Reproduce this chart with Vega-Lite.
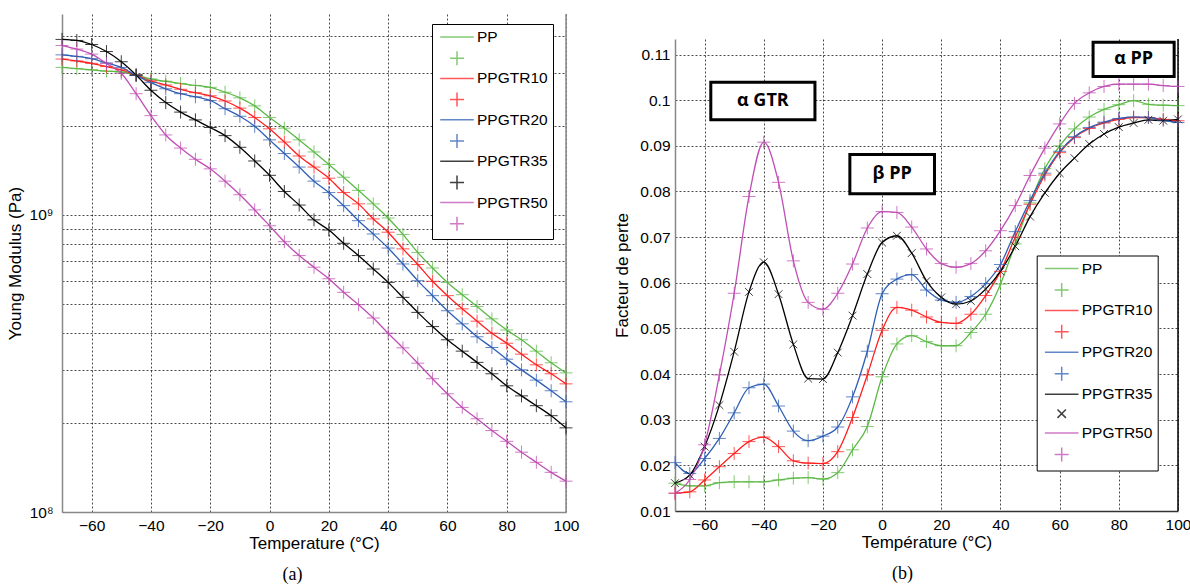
{
"$schema": "https://vega.github.io/schema/vega-lite/v6.json",
"padding": {"left": 6, "top": 13, "right": 0, "bottom": 0},
"spacing": 34,
"config": {
  "view": {"stroke": null},
  "font": "Liberation Sans",
  "axis": {"ticks": false, "labelFont": "Liberation Sans", "labelFontSize": 15.5, "labelColor": "#000", "titleFont": "Liberation Sans", "titleFontSize": 17, "titleFontWeight": "normal", "titleColor": "#000", "grid": true, "gridColor": "#000", "gridDash": [2, 2], "gridOpacity": 0.7, "gridWidth": 1, "domainColor": "#888", "domainWidth": 1.5},
  "axisX": {"labelPadding": 6, "titlePadding": 2, "labelFlush": false},
  "title": {"font": "Liberation Serif", "fontSize": 18, "fontWeight": "normal", "color": "#000", "orient": "bottom", "frame": "bounds", "anchor": "middle", "offset": 14}
},
"datasets": {
"E": [
{"s":"PP","T":-70,"v":3.14e9},{"s":"PP","T":-65,"v":3.11e9},{"s":"PP","T":-60,"v":3.08e9},{"s":"PP","T":-55,"v":3.05e9},{"s":"PP","T":-50,"v":3.03e9},{"s":"PP","T":-45,"v":2.96e9},{"s":"PP","T":-40,"v":2.87e9},{"s":"PP","T":-35,"v":2.82e9},{"s":"PP","T":-30,"v":2.77e9},{"s":"PP","T":-25,"v":2.73e9},{"s":"PP","T":-20,"v":2.69e9},{"s":"PP","T":-15,"v":2.59e9},{"s":"PP","T":-10,"v":2.48e9},{"s":"PP","T":-5,"v":2.33e9},{"s":"PP","T":0,"v":2.13e9},{"s":"PP","T":5,"v":1.96e9},{"s":"PP","T":10,"v":1.79e9},{"s":"PP","T":15,"v":1.63e9},{"s":"PP","T":20,"v":1.48e9},{"s":"PP","T":25,"v":1.34e9},{"s":"PP","T":30,"v":1.21e9},{"s":"PP","T":35,"v":1.09e9},{"s":"PP","T":40,"v":0.977e9},{"s":"PP","T":45,"v":0.86e9},{"s":"PP","T":50,"v":0.748e9},{"s":"PP","T":55,"v":0.663e9},{"s":"PP","T":60,"v":0.593e9},{"s":"PP","T":65,"v":0.539e9},{"s":"PP","T":70,"v":0.492e9},{"s":"PP","T":75,"v":0.447e9},{"s":"PP","T":80,"v":0.41e9},{"s":"PP","T":85,"v":0.38e9},{"s":"PP","T":90,"v":0.348e9},{"s":"PP","T":95,"v":0.318e9},{"s":"PP","T":100,"v":0.294e9},
{"s":"PPGTR10","T":-70,"v":3.35e9},{"s":"PPGTR10","T":-65,"v":3.3e9},{"s":"PPGTR10","T":-60,"v":3.24e9},{"s":"PPGTR10","T":-55,"v":3.16e9},{"s":"PPGTR10","T":-50,"v":3.08e9},{"s":"PPGTR10","T":-45,"v":2.96e9},{"s":"PPGTR10","T":-40,"v":2.83e9},{"s":"PPGTR10","T":-35,"v":2.74e9},{"s":"PPGTR10","T":-30,"v":2.65e9},{"s":"PPGTR10","T":-25,"v":2.58e9},{"s":"PPGTR10","T":-20,"v":2.52e9},{"s":"PPGTR10","T":-15,"v":2.42e9},{"s":"PPGTR10","T":-10,"v":2.29e9},{"s":"PPGTR10","T":-5,"v":2.13e9},{"s":"PPGTR10","T":0,"v":1.95e9},{"s":"PPGTR10","T":5,"v":1.76e9},{"s":"PPGTR10","T":10,"v":1.58e9},{"s":"PPGTR10","T":15,"v":1.45e9},{"s":"PPGTR10","T":20,"v":1.33e9},{"s":"PPGTR10","T":25,"v":1.19e9},{"s":"PPGTR10","T":30,"v":1.09e9},{"s":"PPGTR10","T":35,"v":0.97e9},{"s":"PPGTR10","T":40,"v":0.875e9},{"s":"PPGTR10","T":45,"v":0.769e9},{"s":"PPGTR10","T":50,"v":0.681e9},{"s":"PPGTR10","T":55,"v":0.598e9},{"s":"PPGTR10","T":60,"v":0.535e9},{"s":"PPGTR10","T":65,"v":0.483e9},{"s":"PPGTR10","T":70,"v":0.439e9},{"s":"PPGTR10","T":75,"v":0.4e9},{"s":"PPGTR10","T":80,"v":0.37e9},{"s":"PPGTR10","T":85,"v":0.34e9},{"s":"PPGTR10","T":90,"v":0.313e9},{"s":"PPGTR10","T":95,"v":0.292e9},{"s":"PPGTR10","T":100,"v":0.27e9},
{"s":"PPGTR20","T":-70,"v":3.46e9},{"s":"PPGTR20","T":-65,"v":3.42e9},{"s":"PPGTR20","T":-60,"v":3.36e9},{"s":"PPGTR20","T":-55,"v":3.25e9},{"s":"PPGTR20","T":-50,"v":3.14e9},{"s":"PPGTR20","T":-45,"v":2.95e9},{"s":"PPGTR20","T":-40,"v":2.79e9},{"s":"PPGTR20","T":-35,"v":2.66e9},{"s":"PPGTR20","T":-30,"v":2.56e9},{"s":"PPGTR20","T":-25,"v":2.5e9},{"s":"PPGTR20","T":-20,"v":2.43e9},{"s":"PPGTR20","T":-15,"v":2.28e9},{"s":"PPGTR20","T":-10,"v":2.15e9},{"s":"PPGTR20","T":-5,"v":1.99e9},{"s":"PPGTR20","T":0,"v":1.79e9},{"s":"PPGTR20","T":5,"v":1.61e9},{"s":"PPGTR20","T":10,"v":1.45e9},{"s":"PPGTR20","T":15,"v":1.3e9},{"s":"PPGTR20","T":20,"v":1.19e9},{"s":"PPGTR20","T":25,"v":1.075e9},{"s":"PPGTR20","T":30,"v":0.957e9},{"s":"PPGTR20","T":35,"v":0.863e9},{"s":"PPGTR20","T":40,"v":0.774e9},{"s":"PPGTR20","T":45,"v":0.684e9},{"s":"PPGTR20","T":50,"v":0.601e9},{"s":"PPGTR20","T":55,"v":0.535e9},{"s":"PPGTR20","T":60,"v":0.476e9},{"s":"PPGTR20","T":65,"v":0.43e9},{"s":"PPGTR20","T":70,"v":0.389e9},{"s":"PPGTR20","T":75,"v":0.358e9},{"s":"PPGTR20","T":80,"v":0.327e9},{"s":"PPGTR20","T":85,"v":0.301e9},{"s":"PPGTR20","T":90,"v":0.278e9},{"s":"PPGTR20","T":95,"v":0.256e9},{"s":"PPGTR20","T":100,"v":0.235e9},
{"s":"PPGTR35","T":-70,"v":3.9e9},{"s":"PPGTR35","T":-65,"v":3.87e9},{"s":"PPGTR35","T":-60,"v":3.75e9},{"s":"PPGTR35","T":-55,"v":3.55e9},{"s":"PPGTR35","T":-50,"v":3.28e9},{"s":"PPGTR35","T":-45,"v":2.96e9},{"s":"PPGTR35","T":-40,"v":2.63e9},{"s":"PPGTR35","T":-35,"v":2.39e9},{"s":"PPGTR35","T":-30,"v":2.22e9},{"s":"PPGTR35","T":-25,"v":2.09e9},{"s":"PPGTR35","T":-20,"v":1.97e9},{"s":"PPGTR35","T":-15,"v":1.85e9},{"s":"PPGTR35","T":-10,"v":1.69e9},{"s":"PPGTR35","T":-5,"v":1.52e9},{"s":"PPGTR35","T":0,"v":1.36e9},{"s":"PPGTR35","T":5,"v":1.2e9},{"s":"PPGTR35","T":10,"v":1.08e9},{"s":"PPGTR35","T":15,"v":0.963e9},{"s":"PPGTR35","T":20,"v":0.89e9},{"s":"PPGTR35","T":25,"v":0.803e9},{"s":"PPGTR35","T":30,"v":0.73e9},{"s":"PPGTR35","T":35,"v":0.658e9},{"s":"PPGTR35","T":40,"v":0.593e9},{"s":"PPGTR35","T":45,"v":0.528e9},{"s":"PPGTR35","T":50,"v":0.47e9},{"s":"PPGTR35","T":55,"v":0.421e9},{"s":"PPGTR35","T":60,"v":0.38e9},{"s":"PPGTR35","T":65,"v":0.348e9},{"s":"PPGTR35","T":70,"v":0.319e9},{"s":"PPGTR35","T":75,"v":0.292e9},{"s":"PPGTR35","T":80,"v":0.266e9},{"s":"PPGTR35","T":85,"v":0.246e9},{"s":"PPGTR35","T":90,"v":0.228e9},{"s":"PPGTR35","T":95,"v":0.211e9},{"s":"PPGTR35","T":100,"v":0.192e9},
{"s":"PPGTR50","T":-70,"v":3.72e9},{"s":"PPGTR50","T":-65,"v":3.62e9},{"s":"PPGTR50","T":-60,"v":3.48e9},{"s":"PPGTR50","T":-55,"v":3.24e9},{"s":"PPGTR50","T":-50,"v":3.0e9},{"s":"PPGTR50","T":-45,"v":2.56e9},{"s":"PPGTR50","T":-40,"v":2.16e9},{"s":"PPGTR50","T":-35,"v":1.86e9},{"s":"PPGTR50","T":-30,"v":1.68e9},{"s":"PPGTR50","T":-25,"v":1.54e9},{"s":"PPGTR50","T":-20,"v":1.43e9},{"s":"PPGTR50","T":-15,"v":1.3e9},{"s":"PPGTR50","T":-10,"v":1.17e9},{"s":"PPGTR50","T":-5,"v":1.04e9},{"s":"PPGTR50","T":0,"v":0.92e9},{"s":"PPGTR50","T":5,"v":0.813e9},{"s":"PPGTR50","T":10,"v":0.73e9},{"s":"PPGTR50","T":15,"v":0.667e9},{"s":"PPGTR50","T":20,"v":0.61e9},{"s":"PPGTR50","T":25,"v":0.549e9},{"s":"PPGTR50","T":30,"v":0.499e9},{"s":"PPGTR50","T":35,"v":0.45e9},{"s":"PPGTR50","T":40,"v":0.4e9},{"s":"PPGTR50","T":45,"v":0.357e9},{"s":"PPGTR50","T":50,"v":0.317e9},{"s":"PPGTR50","T":55,"v":0.281e9},{"s":"PPGTR50","T":60,"v":0.25e9},{"s":"PPGTR50","T":65,"v":0.225e9},{"s":"PPGTR50","T":70,"v":0.206e9},{"s":"PPGTR50","T":75,"v":0.188e9},{"s":"PPGTR50","T":80,"v":0.173e9},{"s":"PPGTR50","T":85,"v":0.159e9},{"s":"PPGTR50","T":90,"v":0.147e9},{"s":"PPGTR50","T":95,"v":0.136e9},{"s":"PPGTR50","T":100,"v":0.127e9}
],
"tan": [
{"s":"PP","T":-70,"v":0.0161},{"s":"PP","T":-65,"v":0.0155},{"s":"PP","T":-60,"v":0.0155},{"s":"PP","T":-55,"v":0.0162},{"s":"PP","T":-50,"v":0.0164},{"s":"PP","T":-45,"v":0.0164},{"s":"PP","T":-40,"v":0.0164},{"s":"PP","T":-35,"v":0.0168},{"s":"PP","T":-30,"v":0.0172},{"s":"PP","T":-25,"v":0.0173},{"s":"PP","T":-20,"v":0.017},{"s":"PP","T":-15,"v":0.0184},{"s":"PP","T":-10,"v":0.0234},{"s":"PP","T":-5,"v":0.0285},{"s":"PP","T":0,"v":0.0394},{"s":"PP","T":5,"v":0.0466},{"s":"PP","T":10,"v":0.0484},{"s":"PP","T":15,"v":0.0471},{"s":"PP","T":20,"v":0.0462},{"s":"PP","T":25,"v":0.0462},{"s":"PP","T":30,"v":0.0491},{"s":"PP","T":35,"v":0.0531},{"s":"PP","T":40,"v":0.0597},{"s":"PP","T":45,"v":0.0685},{"s":"PP","T":50,"v":0.0775},{"s":"PP","T":55,"v":0.085},{"s":"PP","T":60,"v":0.09},{"s":"PP","T":65,"v":0.0937},{"s":"PP","T":70,"v":0.0963},{"s":"PP","T":75,"v":0.098},{"s":"PP","T":80,"v":0.099},{"s":"PP","T":85,"v":0.0999},{"s":"PP","T":90,"v":0.0991},{"s":"PP","T":95,"v":0.0989},{"s":"PP","T":100,"v":0.0988},
{"s":"PPGTR10","T":-70,"v":0.0139},{"s":"PPGTR10","T":-65,"v":0.0142},{"s":"PPGTR10","T":-60,"v":0.0168},{"s":"PPGTR10","T":-55,"v":0.0197},{"s":"PPGTR10","T":-50,"v":0.0226},{"s":"PPGTR10","T":-45,"v":0.0252},{"s":"PPGTR10","T":-40,"v":0.0262},{"s":"PPGTR10","T":-35,"v":0.0241},{"s":"PPGTR10","T":-30,"v":0.021},{"s":"PPGTR10","T":-25,"v":0.0205},{"s":"PPGTR10","T":-20,"v":0.0204},{"s":"PPGTR10","T":-15,"v":0.023},{"s":"PPGTR10","T":-10,"v":0.0305},{"s":"PPGTR10","T":-5,"v":0.0398},{"s":"PPGTR10","T":0,"v":0.0496},{"s":"PPGTR10","T":5,"v":0.0546},{"s":"PPGTR10","T":10,"v":0.054},{"s":"PPGTR10","T":15,"v":0.0525},{"s":"PPGTR10","T":20,"v":0.0513},{"s":"PPGTR10","T":25,"v":0.0511},{"s":"PPGTR10","T":30,"v":0.0531},{"s":"PPGTR10","T":35,"v":0.0572},{"s":"PPGTR10","T":40,"v":0.0625},{"s":"PPGTR10","T":45,"v":0.07},{"s":"PPGTR10","T":50,"v":0.0772},{"s":"PPGTR10","T":55,"v":0.0836},{"s":"PPGTR10","T":60,"v":0.0885},{"s":"PPGTR10","T":65,"v":0.0918},{"s":"PPGTR10","T":70,"v":0.0938},{"s":"PPGTR10","T":75,"v":0.095},{"s":"PPGTR10","T":80,"v":0.0958},{"s":"PPGTR10","T":85,"v":0.0962},{"s":"PPGTR10","T":90,"v":0.0962},{"s":"PPGTR10","T":95,"v":0.0958},{"s":"PPGTR10","T":100,"v":0.0955},
{"s":"PPGTR20","T":-70,"v":0.0206},{"s":"PPGTR20","T":-65,"v":0.0182},{"s":"PPGTR20","T":-60,"v":0.0215},{"s":"PPGTR20","T":-55,"v":0.0259},{"s":"PPGTR20","T":-50,"v":0.0315},{"s":"PPGTR20","T":-45,"v":0.037},{"s":"PPGTR20","T":-40,"v":0.0378},{"s":"PPGTR20","T":-35,"v":0.033},{"s":"PPGTR20","T":-30,"v":0.0275},{"s":"PPGTR20","T":-25,"v":0.0254},{"s":"PPGTR20","T":-20,"v":0.0264},{"s":"PPGTR20","T":-15,"v":0.0284},{"s":"PPGTR20","T":-10,"v":0.035},{"s":"PPGTR20","T":-5,"v":0.045},{"s":"PPGTR20","T":0,"v":0.0576},{"s":"PPGTR20","T":5,"v":0.0608},{"s":"PPGTR20","T":10,"v":0.0618},{"s":"PPGTR20","T":15,"v":0.0584},{"s":"PPGTR20","T":20,"v":0.0562},{"s":"PPGTR20","T":25,"v":0.0557},{"s":"PPGTR20","T":30,"v":0.057},{"s":"PPGTR20","T":35,"v":0.0598},{"s":"PPGTR20","T":40,"v":0.064},{"s":"PPGTR20","T":45,"v":0.0712},{"s":"PPGTR20","T":50,"v":0.078},{"s":"PPGTR20","T":55,"v":0.084},{"s":"PPGTR20","T":60,"v":0.0888},{"s":"PPGTR20","T":65,"v":0.092},{"s":"PPGTR20","T":70,"v":0.094},{"s":"PPGTR20","T":75,"v":0.0952},{"s":"PPGTR20","T":80,"v":0.096},{"s":"PPGTR20","T":85,"v":0.0963},{"s":"PPGTR20","T":90,"v":0.0962},{"s":"PPGTR20","T":95,"v":0.0956},{"s":"PPGTR20","T":100,"v":0.0951},
{"s":"PPGTR35","T":-70,"v":0.0161},{"s":"PPGTR35","T":-65,"v":0.0179},{"s":"PPGTR35","T":-60,"v":0.0241},{"s":"PPGTR35","T":-55,"v":0.0332},{"s":"PPGTR35","T":-50,"v":0.0449},{"s":"PPGTR35","T":-45,"v":0.058},{"s":"PPGTR35","T":-40,"v":0.0645},{"s":"PPGTR35","T":-35,"v":0.0575},{"s":"PPGTR35","T":-30,"v":0.0465},{"s":"PPGTR35","T":-25,"v":0.039},{"s":"PPGTR35","T":-20,"v":0.0389},{"s":"PPGTR35","T":-15,"v":0.0447},{"s":"PPGTR35","T":-10,"v":0.0528},{"s":"PPGTR35","T":-5,"v":0.0619},{"s":"PPGTR35","T":0,"v":0.0688},{"s":"PPGTR35","T":5,"v":0.0703},{"s":"PPGTR35","T":10,"v":0.0665},{"s":"PPGTR35","T":15,"v":0.0604},{"s":"PPGTR35","T":20,"v":0.0568},{"s":"PPGTR35","T":25,"v":0.0553},{"s":"PPGTR35","T":30,"v":0.056},{"s":"PPGTR35","T":35,"v":0.0586},{"s":"PPGTR35","T":40,"v":0.0625},{"s":"PPGTR35","T":45,"v":0.068},{"s":"PPGTR35","T":50,"v":0.0745},{"s":"PPGTR35","T":55,"v":0.0797},{"s":"PPGTR35","T":60,"v":0.084},{"s":"PPGTR35","T":65,"v":0.0873},{"s":"PPGTR35","T":70,"v":0.0904},{"s":"PPGTR35","T":75,"v":0.0926},{"s":"PPGTR35","T":80,"v":0.0941},{"s":"PPGTR35","T":85,"v":0.095},{"s":"PPGTR35","T":90,"v":0.0957},{"s":"PPGTR35","T":95,"v":0.0955},{"s":"PPGTR35","T":100,"v":0.0958},
{"s":"PPGTR50","T":-70,"v":0.0139},{"s":"PPGTR50","T":-65,"v":0.0169},{"s":"PPGTR50","T":-60,"v":0.0245},{"s":"PPGTR50","T":-55,"v":0.0398},{"s":"PPGTR50","T":-50,"v":0.0577},{"s":"PPGTR50","T":-45,"v":0.0789},{"s":"PPGTR50","T":-40,"v":0.0908},{"s":"PPGTR50","T":-35,"v":0.082},{"s":"PPGTR50","T":-30,"v":0.0648},{"s":"PPGTR50","T":-25,"v":0.0557},{"s":"PPGTR50","T":-20,"v":0.0542},{"s":"PPGTR50","T":-15,"v":0.0577},{"s":"PPGTR50","T":-10,"v":0.0641},{"s":"PPGTR50","T":-5,"v":0.072},{"s":"PPGTR50","T":0,"v":0.0756},{"s":"PPGTR50","T":5,"v":0.0754},{"s":"PPGTR50","T":10,"v":0.0722},{"s":"PPGTR50","T":15,"v":0.0674},{"s":"PPGTR50","T":20,"v":0.0642},{"s":"PPGTR50","T":25,"v":0.0634},{"s":"PPGTR50","T":30,"v":0.0642},{"s":"PPGTR50","T":35,"v":0.067},{"s":"PPGTR50","T":40,"v":0.0714},{"s":"PPGTR50","T":45,"v":0.0769},{"s":"PPGTR50","T":50,"v":0.0835},{"s":"PPGTR50","T":55,"v":0.0895},{"s":"PPGTR50","T":60,"v":0.0948},{"s":"PPGTR50","T":65,"v":0.0993},{"s":"PPGTR50","T":70,"v":0.1016},{"s":"PPGTR50","T":75,"v":0.103},{"s":"PPGTR50","T":80,"v":0.1035},{"s":"PPGTR50","T":85,"v":0.1035},{"s":"PPGTR50","T":90,"v":0.1035},{"s":"PPGTR50","T":95,"v":0.1032},{"s":"PPGTR50","T":100,"v":0.103}
],
"ann": [
{"lab":"α  GTR","x1":-57.9,"x2":-22.7,"y1":0.0957,"y2":0.1039,"xc":-40.3,"yc":0.0998},
{"lab":"β PP","x1":-10.9,"x2":17.7,"y1":0.0795,"y2":0.0881,"xc":3.4,"yc":0.0838},
{"lab":"α  PP","x1":71.3,"x2":98.7,"y1":0.1052,"y2":0.1127,"xc":85,"yc":0.109}
]
},
"hconcat": [
{
  "width": 504, "height": 498,
  "title": {"text": "(a)"},
  "layer": [
    {"data": {"values": [{"T": 100}]}, "mark": {"type": "rule", "color": "#888", "strokeWidth": 1.5}, "encoding": {"x": {"field": "T", "type": "quantitative"}}},
    {"data": {"name": "E"},
     "mark": {"type": "line", "strokeWidth": 1.3, "interpolate": "monotone"},
     "encoding": {
       "x": {"field": "T", "type": "quantitative", "scale": {"domain": [-70, 100], "nice": false, "zero": false}, "axis": {"title": "Temperature (°C)", "values": [-60, -40, -20, 0, 20, 40, 60, 80, 100]}},
       "y": {"field": "v", "type": "quantitative", "scale": {"type": "log", "domain": [1e8, 4.75e9], "nice": false}, "axis": {"title": "Young Modulus (Pa)", "values": [1e8, 2e8, 3e8, 4e8, 5e8, 6e8, 7e8, 8e8, 9e8, 1e9, 2e9, 3e9, 4e9], "labelExpr": "datum.value == 1e9 ? '10⁹' : (datum.value == 1e8 ? '10⁸' : '')", "labelPadding": 9, "titlePadding": 5}},
       "color": {"field": "s", "type": "nominal",
         "scale": {"domain": ["PP~", "PP", "PPGTR10~", "PPGTR10", "PPGTR20~", "PPGTR20", "PPGTR35~", "PPGTR35", "PPGTR50~", "PPGTR50"], "range": ["#5cb946", "#5cb946", "#ff2020", "#ff2020", "#2f5fb5", "#2f5fb5", "#000000", "#000000", "#c04eb4", "#c04eb4"]},
         "legend": {"orient": "none", "legendX": 370, "legendY": 10, "title": null,
           "labelExpr": "indexof(datum.value, '~') >= 0 ? replace(datum.value, '~', '') : ''",
           "symbolSize": 196, "symbolStrokeWidth": 1.5, "rowPadding": 2.2, "padding": 5, "symbolOffset": 12, "labelOffset": 12,
           "strokeColor": "#000", "fillColor": "#fff", "labelFontSize": 15.5, "labelFont": "Liberation Sans", "labelColor": "#000"}}
     }},
    {"data": {"name": "E"},
     "mark": {"type": "point", "filled": false, "size": 169, "strokeWidth": 1, "opacity": 0.75},
     "encoding": {
       "x": {"field": "T", "type": "quantitative"},
       "y": {"field": "v", "type": "quantitative"},
       "color": {"field": "s", "type": "nominal"},
       "shape": {"field": "s", "type": "nominal",
         "scale": {"domain": ["PP~", "PP", "PPGTR10~", "PPGTR10", "PPGTR20~", "PPGTR20", "PPGTR35~", "PPGTR35", "PPGTR50~", "PPGTR50"], "range": ["M-2.4,0H2.4", "M-1,0H1M0,-1V1", "M-2.4,0H2.4", "M-1,0H1M0,-1V1", "M-2.4,0H2.4", "M-1,0H1M0,-1V1", "M-2.4,0H2.4", "M-1,0H1M0,-1V1", "M-2.4,0H2.4", "M-1,0H1M0,-1V1"]},
         "legend": {"orient": "none", "legendX": 370, "legendY": 10, "title": null,
           "labelExpr": "indexof(datum.value, '~') >= 0 ? replace(datum.value, '~', '') : ''",
           "symbolSize": 196, "symbolStrokeWidth": 1.5, "rowPadding": 2.2, "padding": 5, "symbolOffset": 12, "labelOffset": 12,
           "strokeColor": "#000", "fillColor": "#fff", "labelFontSize": 15.5, "labelFont": "Liberation Sans", "labelColor": "#000"}}
     }}
  ]
},
{
  "spacing": 23,
  "vconcat": [
    {"width": 503, "height": 1, "data": {"values": []}, "mark": {"type": "rule"}, "encoding": {}},
    {
      "width": 503, "height": 472,
      "title": {"text": "(b)"},
      "layer": [
        {"data": {"values": [{"T": 100}]}, "mark": {"type": "rule", "color": "#000", "strokeWidth": 1.5}, "encoding": {"x": {"field": "T", "type": "quantitative"}}},
        {"data": {"name": "tan"},
         "mark": {"type": "line", "strokeWidth": 1.3, "interpolate": "monotone"},
         "encoding": {
           "x": {"field": "T", "type": "quantitative", "scale": {"domain": [-70, 100], "nice": false, "zero": false}, "axis": {"title": "Température (°C)", "values": [-60, -40, -20, 0, 20, 40, 60, 80, 100], "domainColor": "#333"}},
           "y": {"field": "v", "type": "quantitative", "scale": {"domain": [0.01, 0.1134], "nice": false, "zero": false}, "axis": {"title": "Facteur de perte", "values": [0.01, 0.02, 0.03, 0.04, 0.05, 0.06, 0.07, 0.08, 0.09, 0.1, 0.11], "format": "~g", "labelPadding": 5, "titlePadding": 8}},
           "color": {"field": "s", "type": "nominal",
             "scale": {"domain": ["PP~", "PP", "PPGTR10~", "PPGTR10", "PPGTR20~", "PPGTR20", "PPGTR35~", "PPGTR35", "PPGTR50~", "PPGTR50"], "range": ["#5cb946", "#5cb946", "#ff2020", "#ff2020", "#2f5fb5", "#2f5fb5", "#000000", "#000000", "#c04eb4", "#c04eb4"]},
             "legend": {"orient": "none", "legendX": 361.7, "legendY": 241.5, "title": null,
               "labelExpr": "indexof(datum.value, '~') >= 0 ? replace(datum.value, '~', '') : ''",
               "symbolSize": 196, "symbolStrokeWidth": 1.5, "rowPadding": 2.45, "padding": 5, "symbolOffset": 12, "labelOffset": 12,
               "strokeColor": "#000", "fillColor": "#fff", "labelFontSize": 15.5, "labelFont": "Liberation Sans", "labelColor": "#000"}}
         }},
        {"data": {"name": "tan"},
         "mark": {"type": "point", "filled": false, "size": 169, "strokeWidth": 1, "opacity": 0.75},
         "encoding": {
           "x": {"field": "T", "type": "quantitative"},
           "y": {"field": "v", "type": "quantitative"},
           "color": {"field": "s", "type": "nominal"},
           "shape": {"field": "s", "type": "nominal",
             "scale": {"domain": ["PP~", "PP", "PPGTR10~", "PPGTR10", "PPGTR20~", "PPGTR20", "PPGTR35~", "PPGTR35", "PPGTR50~", "PPGTR50"], "range": ["M-2.4,0H2.4", "M-1,0H1M0,-1V1", "M-2.4,0H2.4", "M-1,0H1M0,-1V1", "M-2.4,0H2.4", "M-1,0H1M0,-1V1", "M-2.4,0H2.4", "M-0.6,-0.6L0.6,0.6M-0.6,0.6L0.6,-0.6", "M-2.4,0H2.4", "M-1,0H1M0,-1V1"]},
             "legend": {"orient": "none", "legendX": 361.7, "legendY": 241.5, "title": null,
               "labelExpr": "indexof(datum.value, '~') >= 0 ? replace(datum.value, '~', '') : ''",
               "symbolSize": 196, "symbolStrokeWidth": 1.5, "rowPadding": 2.45, "padding": 5, "symbolOffset": 12, "labelOffset": 12,
               "strokeColor": "#000", "fillColor": "#fff", "labelFontSize": 15.5, "labelFont": "Liberation Sans", "labelColor": "#000"}}
         }},
        {"data": {"name": "ann"},
         "mark": {"type": "rect", "fill": "#fff", "stroke": "#000", "strokeWidth": 3},
         "encoding": {
           "x": {"field": "x1", "type": "quantitative"}, "x2": {"field": "x2"},
           "y": {"field": "y1", "type": "quantitative"}, "y2": {"field": "y2"}
         }},
        {"data": {"name": "ann"},
         "mark": {"type": "text", "font": "Open Sans", "fontWeight": "bold", "fontSize": 18, "align": "center", "baseline": "middle", "color": "#000"},
         "encoding": {
           "x": {"field": "xc", "type": "quantitative"},
           "y": {"field": "yc", "type": "quantitative"},
           "text": {"field": "lab"}
         }}
      ]
    }
  ]
}
],
"resolve": {"scale": {"x": "independent", "y": "independent", "color": "independent", "shape": "independent"}, "legend": {"color": "independent", "shape": "independent"}, "axis": {"x": "independent", "y": "independent"}}
}
